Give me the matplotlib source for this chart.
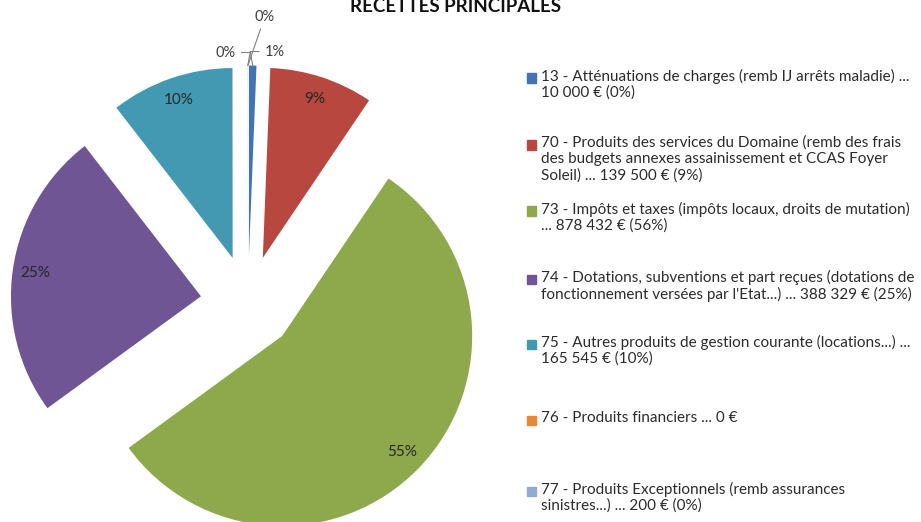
import numpy as np
import matplotlib.pyplot as plt

# recettes principales (euros)
codes = ['13', '70', '73', '74', '75', '76', '77']
amounts = [10000, 139500, 878432, 388329, 165545, 0, 200]
pct_labels = ['1%', '9%', '55%', '25%', '10%', '0%', '0%']
legend_labels = [
    "13 - Atténuations de charges (remb IJ arrêts maladie) ...\n10 000 € (0%)",
    "70 - Produits des services du Domaine (remb des frais\n"
    "des budgets annexes assainissement et CCAS Foyer\nSoleil) ... 139 500 € (9%)",
    "73 - Impôts et taxes (impôts locaux, droits de mutation)\n... 878 432 € (56%)",
    "74 - Dotations, subventions et part reçues (dotations de\n"
    "fonctionnement versées par l'Etat...) ... 388 329 € (25%)",
    "75 - Autres produits de gestion courante (locations...) ...\n165 545 € (10%)",
    "76 - Produits financiers ... 0 €",
    "77 - Produits Exceptionnels (remb assurances\nsinistres...) ... 200 € (0%)",
]
colors = ['#4173B5', '#B8473F', '#8EA94C', '#6F5593', '#4399B2', '#E8873A', '#93ABD3']

W, H = 921, 522
FONT = 'Lato'
plt.rcParams['font.family'] = [FONT, 'DejaVu Sans']

fig = plt.figure(figsize=(W / 100, H / 100), dpi=100)
ax = fig.add_axes([0, 0, 1, 1])

# pie centre and radius in pixels
cx, cy, R = 248, 303, 190

wedges, _ = ax.pie(amounts, colors=colors, startangle=90, counterclock=False,
                   explode=[0.25] * len(amounts), radius=1,
                   wedgeprops=dict(linewidth=0))
ax.set_xlim(-cx / R, (W - cx) / R)
ax.set_ylim(-(H - cy) / R, cy / R)
ax.axis('off')

small = {0: (22, 14), 5: (-22, 13), 6: (17, 49)}
conn = {0: 'angle,angleA=0,angleB=100', 5: 'angle,angleA=0,angleB=80',
        6: 'arc3,rad=0'}
for i, w in enumerate(wedges):
    th = np.deg2rad((w.theta1 + w.theta2) / 2)
    x0, y0 = w.center
    if i in small:
        px, py = x0 + np.cos(th), y0 + np.sin(th)
        ax.annotate(pct_labels[i], xy=(px, py), xytext=small[i],
                    textcoords='offset pixels', ha='center', va='center',
                    fontsize=10.5, color='#404040',
                    arrowprops=dict(arrowstyle='-', color='#808080', lw=0.8,
                                    connectionstyle=conn[i], shrinkA=2, shrinkB=0))
    else:
        ax.text(x0 + 0.88 * np.cos(th), y0 + 0.88 * np.sin(th), pct_labels[i],
                ha='center', va='center', fontsize=11, color='#262626')

fig.text(455 / W, 1 - 7 / H, 'RECETTES PRINCIPALES', ha='center', va='center',
         fontsize=13.5, fontweight='bold', color='#111111')

# legend drawn by hand to keep Excel's uneven spacing
entry_y = [78, 145, 211, 279, 344, 420, 491]
for lab, col, yy in zip(legend_labels, colors, entry_y):
    fig.patches.append(plt.Rectangle((527 / W, 1 - (yy + 4.5) / H), 9 / W, 9 / H,
                                     transform=fig.transFigure, color=col))
    fig.text(541 / W, 1 - (yy - 9.5) / H, lab, ha='left', va='top',
             fontsize=11, color='#2b2b2b', linespacing=1.2)

fig.savefig('out.png', dpi=100)
